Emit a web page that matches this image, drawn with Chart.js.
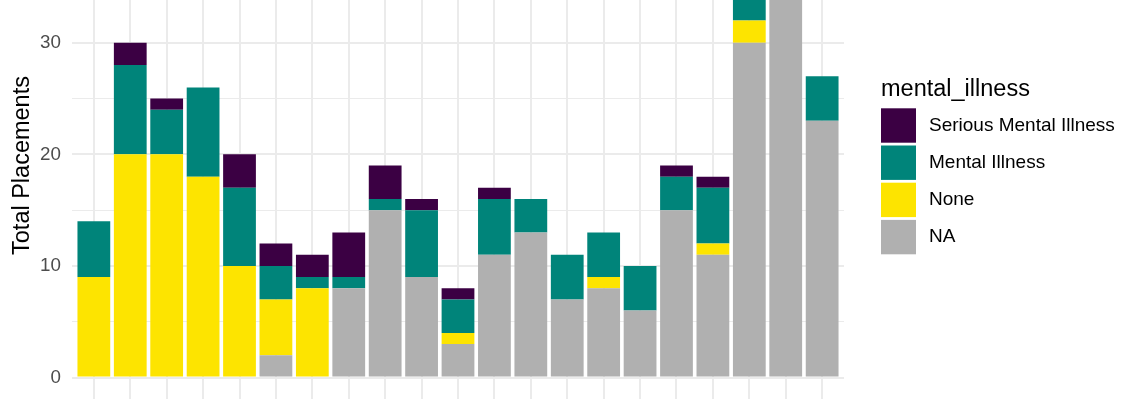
<!DOCTYPE html>
<html lang="en">
<head>
  <meta charset="UTF-8" />
  <title>Total Placements by mental_illness</title>
  <script src="https://cdn.jsdelivr.net/npm/chart.js"></script>
  <style>
    html, body { margin: 0; padding: 0; background: #fff; overflow: hidden; }
    .wrap { width: 1140px; height: 400px; overflow: hidden; position: relative; }
    #grafico { position: absolute; left: 0; top: -90px; }
  </style>
</head>
<body>
  <div class="wrap">
    <canvas id="grafico" width="1140" height="511"></canvas>
  </div>

<script>
  // categories (x labels fall below the visible area)
  var categories = ["1", "2", "3", "4", "5", "6", "7", "8", "9", "10", "11",
    "12", "13", "14", "15", "16", "17", "18", "19", "20", "21"]

  // stacked from the bottom: NA, None, Mental Illness, Serious Mental Illness
  var valoresNA = [0, 0, 0, 0, 0, 2, 0, 8, 15, 9, 3, 11, 13, 7, 8, 6, 15, 11, 30, 38, 23]
  var valoresNone = [9, 20, 20, 18, 10, 5, 8, 0, 0, 0, 1, 0, 0, 0, 1, 0, 0, 1, 2, 0, 0]
  var valoresMental = [5, 8, 4, 8, 7, 3, 1, 1, 1, 6, 3, 5, 3, 4, 4, 4, 3, 5, 3, 0, 4]
  var valoresSerious = [0, 2, 1, 0, 3, 2, 2, 4, 3, 1, 1, 1, 0, 0, 0, 0, 1, 1, 1, 0, 0]

  var yTicks = [0, 5, 10, 15, 20, 25, 30, 35]
  var yLabels = [0, 10, 20, 30]

  const fonte = "'Liberation Sans', Arial, Helvetica, sans-serif"
  const OFFSET = 90 // canvas is shifted up by this much

  function pontos(lista) {
    return lista.map(function (v, i) { return { x: i, y: v } })
  }

  const dataBarChart = {
    datasets: [
      { label: "NA", data: pontos(valoresNA), backgroundColor: "#B0B0B0" },
      { label: "None", data: pontos(valoresNone), backgroundColor: "#FDE400" },
      { label: "Mental Illness", data: pontos(valoresMental), backgroundColor: "#00847A" },
      { label: "Serious Mental Illness", data: pontos(valoresSerious), backgroundColor: "#3B0043" },
    ],
  }

  // legend drawn like ggplot's (keys reversed, title on top)
  const legendaGG = {
    id: "legendaGG",
    afterDraw: function (chart) {
      const ctx = chart.ctx
      ctx.save()
      ctx.fillStyle = "#000"
      ctx.font = "23.5px " + fonte
      ctx.textAlign = "left"
      ctx.textBaseline = "alphabetic"
      ctx.fillText("mental_illness", 881, 96 + OFFSET)

      const itens = chart.data.datasets.slice().reverse()
      itens.forEach(function (ds, i) {
        const top = 108.3 + i * 37.2 + OFFSET
        ctx.fillStyle = ds.backgroundColor
        ctx.fillRect(881, top, 35, 34.4)
        ctx.fillStyle = "#000"
        ctx.font = "19px " + fonte
        ctx.textBaseline = "middle"
        ctx.fillText(ds.label, 929, top + 17.2)
      })
      ctx.restore()
    },
  }

  const chartConfiguration = {
    type: "bar",
    data: dataBarChart,
    plugins: [legendaGG],
    options: {
      responsive: false,
      animation: false,
      devicePixelRatio: 1,
      barPercentage: 0.9,
      categoryPercentage: 1,
      layout: { padding: { top: 12, right: 296, left: 0, bottom: 0 } },
      plugins: { legend: { display: false }, tooltip: { enabled: false } },
      scales: {
        x: {
          type: "linear",
          stacked: true,
          offset: false,
          min: -0.6,
          max: categories.length - 0.4,
          afterBuildTicks: function (scale) {
            scale.ticks = categories.map(function (c, i) { return { value: i } })
          },
          afterFit: function (scale) { scale.height = 3 },
          ticks: { display: false },
          grid: { color: "#EBEBEB", lineWidth: 2, drawTicks: false, offset: false },
          border: { display: false },
        },
        y: {
          stacked: true,
          min: -1.9,
          max: 39.9,
          afterBuildTicks: function (scale) {
            scale.ticks = yTicks.map(function (v) { return { value: v } })
          },
          afterFit: function (scale) { scale.width = 72 },
          ticks: {
            padding: 11,
            color: "#4D4D4D",
            font: { family: fonte, size: 18.8 },
            callback: function (v) { return yLabels.includes(v) ? v : "" },
          },
          grid: {
            color: "#EBEBEB",
            drawTicks: false,
            lineWidth: function (c) { return c.tick && c.tick.value % 10 === 0 ? 2 : 1 },
          },
          border: { display: false },
          title: {
            display: true,
            text: "Total Placements",
            color: "#000",
            font: { family: fonte, size: 23.5 },
            padding: { top: 8, bottom: 0 },
          },
        },
      },
    },
  }

  const grafico = new Chart(document.getElementById("grafico").getContext("2d"), chartConfiguration)
</script>
</body>
</html>
